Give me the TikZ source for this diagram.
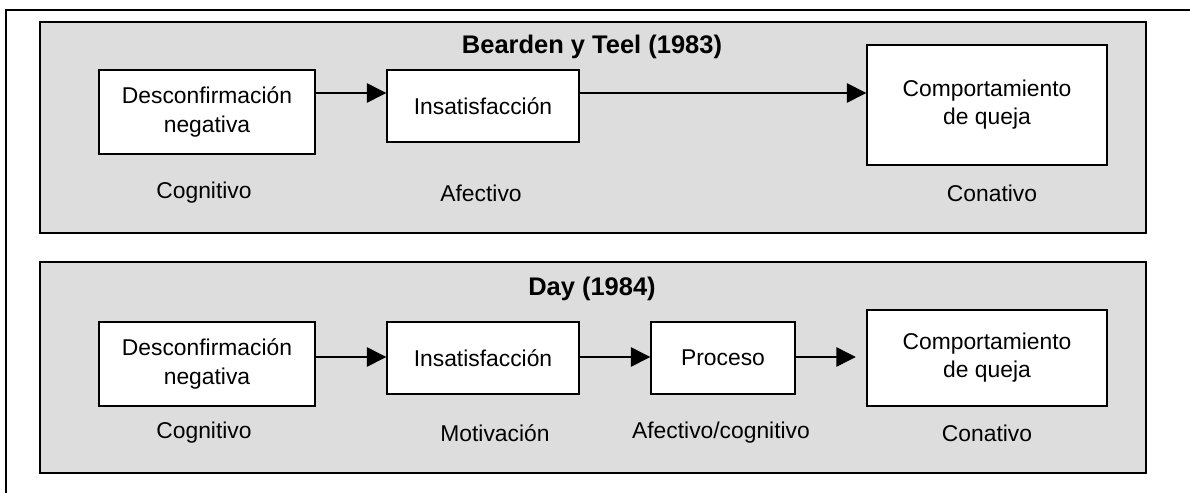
\documentclass[tikz,border=0pt]{standalone}
\usepackage{fontspec}
\setmainfont{Liberation Sans}
\usepackage{tikz}
\usetikzlibrary{positioning, arrows.meta}

\definecolor{panelgray}{RGB}{221,221,221}
\newcommand{\stagefont}{\fontsize{13}{16}\selectfont}
\newcommand{\titlefont}{\fontsize{14.5}{17}\selectfont\bfseries}

\begin{document}
\begin{tikzpicture}[x=0.02cm, y=-0.02cm,
    panel/.style={fill=panelgray, draw=black, line width=0.9pt},
    stage/.style={draw, fill=white, line width=0.8pt, align=center, font=\stagefont, inner sep=0pt},
    level/.style={font=\stagefont, inner sep=0pt},
    flow/.style={-{Triangle[length=11pt, width=11pt]}, line width=0.8pt}]
            \clip (0,0) rectangle (1190,493);

            % Outer frame, cut at the right and bottom
            \draw[line width=0.8pt] (6,520) |- (1210,10);

            % Top panel - Bearden y Teel
            \draw[panel] (40,22) rectangle (1146,233);
            \node[font=\titlefont] (title1) at (592,47) {Bearden y Teel (1983)};
            \node[stage, minimum width=216*0.02cm, minimum height=84*0.02cm] (desc1) at (207,112) {Desconfirmación\\negativa};
            \node[stage, minimum width=192*0.02cm, minimum height=72*0.02cm] (ins1) at (483,106) {Insatisfacción};
            \node[stage, minimum width=240*0.02cm, minimum height=120*0.02cm] (comp1) at (987,105) {\raisebox{3.4pt}{\begin{tabular}{@{}c@{}}Comportamiento\\de queja\end{tabular}}};
            \node[level] (cog1) at (204,193) {Cognitivo};
            \node[level] (afe1) at (481,193) {Afectivo};
            \node[level] (con1) at (992,193) {Conativo};
            \coordinate (row1) at (0,93);
            \draw[flow] (desc1.east |- row1) -- (ins1.west |- row1);
            \draw[flow] (ins1.east |- row1) -- (comp1.west |- row1);

            % Bottom panel - Day
            \draw[panel] (40,262) rectangle (1146,473);
            \node[font=\titlefont] (title2) at (592,289) {Day (1984)};
            \node[stage, minimum width=216*0.02cm, minimum height=84*0.02cm] (desc2) at (207,364) {Desconfirmación\\negativa};
            \node[stage, minimum width=192*0.02cm, minimum height=72*0.02cm] (ins2) at (483,358) {Insatisfacción};
            \node[stage, minimum width=144*0.02cm, minimum height=72*0.02cm] (proc2) at (723,358) {Proceso};
            \node[stage, minimum width=240*0.02cm, minimum height=96*0.02cm] (comp2) at (987,358) {Comportamiento\\de queja};
            \node[level] (cog2) at (204,433) {Cognitivo};
            \node[level] (mot2) at (495,433) {Motivación};
            \node[level] (afe2) at (721,433) {Afectivo/cognitivo};
            \node[level] (con2) at (987,433) {Conativo};
            \coordinate (row2) at (0,357);
            \draw[flow] (desc2.east |- row2) -- (ins2.west |- row2);
            \draw[flow] (ins2.east |- row2) -- (proc2.west |- row2);
            \draw[flow, shorten >=6pt] (proc2.east |- row2) -- (comp2.west |- row2);
        \end{tikzpicture}
\end{document}
